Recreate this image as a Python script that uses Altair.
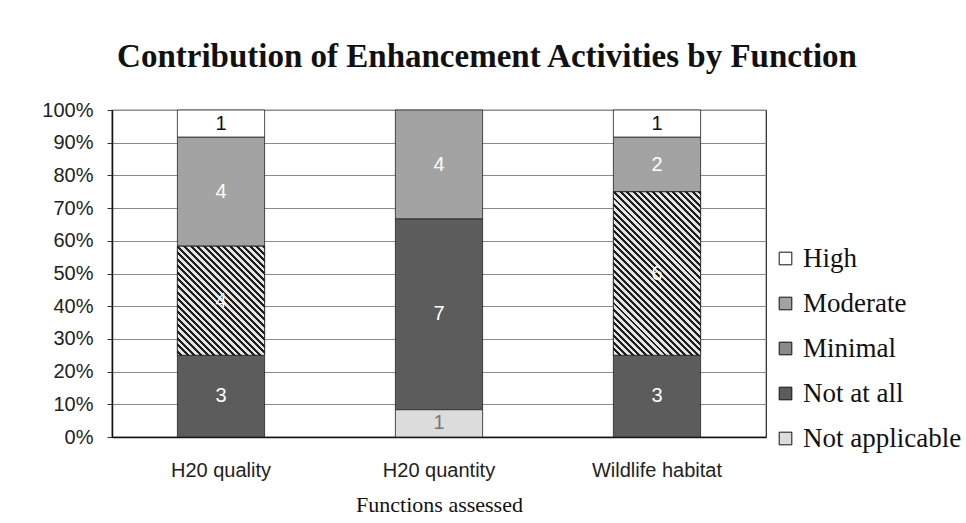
import altair as alt
import pandas as pd

functions = ["H20 quality", "H20 quantity", "Wildlife habitat"]
levels = ["High", "Moderate", "Minimal", "Not at all", "Not applicable"]
high = [1, 0, 1]
moderate = [4, 4, 2]
minimal = [4, 0, 6]
not_at_all = [3, 7, 3]
not_applicable = [0, 1, 0]
y_ticks = [0, 0.1, 0.2, 0.3, 0.4, 0.5, 0.6, 0.7, 0.8, 0.9, 1.0]

series = {
    "High": high,
    "Moderate": moderate,
    "Minimal": minimal,
    "Not at all": not_at_all,
    "Not applicable": not_applicable,
}
stack_order = {"Not applicable": 0, "Not at all": 1, "Minimal": 2, "Moderate": 3, "High": 4}
text_colors = {"High": "#111111", "Moderate": "#ffffff", "Minimal": "#ffffff",
               "Not at all": "#ffffff", "Not applicable": "#777777"}
fills = ["#ffffff", "#a3a3a3", "#8a8a8a", "#5c5c5c", "#dcdcdc"]

rows = []
for lvl in levels:
    for f, c in zip(functions, series[lvl]):
        rows.append({"Function": f, "Level": lvl, "Count": c,
                     "order": stack_order[lvl], "tcol": text_colors[lvl]})
df = pd.DataFrame(rows)


def hatch(k, n, dark="#1e1e1e", light="#e4e4e4", frac=0.45):
    stops = []
    for i in range(n):
        a = round(i / n, 5)
        m = round((i + frac) / n, 5)
        b = round((i + 1) / n, 5)
        stops += [{"offset": a, "color": dark}, {"offset": m, "color": dark},
                  {"offset": m, "color": light}, {"offset": b, "color": light}]
    return {"gradient": "linear", "x1": 1, "y1": 0, "x2": 0, "y2": k, "stops": stops}


base = (
    alt.Chart(df)
    .transform_stack(stack="Count", groupby=["Function"], as_=["y0", "y1"],
                     sort=[alt.SortField("order", order="ascending")], offset="normalize")
    .transform_filter("datum.Count > 0")
    .transform_calculate(ymid="(datum.y0 + datum.y1) / 2")
)

x_axis = alt.Axis(title="Functions assessed", labelAngle=0, ticks=False,
                  labelFont="Liberation Sans", labelFontSize=20, labelColor="#222",
                  labelPadding=23, titleFont="Liberation Serif", titleFontSize=22,
                  titleFontWeight="normal", titleColor="#111", titlePadding=14,
                  domainColor="#111", domainWidth=1.5)
y_axis = alt.Axis(title=None, format="%", values=y_ticks, labelOverlap=False,
                  tickCount=20, labelFont="Liberation Sans", labelFontSize=20,
                  labelColor="#222", labelPadding=14, tickSize=5, tickColor="#333",
                  domainColor="#111", domainWidth=1.5,
                  grid=True, gridColor="#8a8a8a", gridWidth=1)
x_scale = alt.Scale(paddingInner=0.6, paddingOuter=0.3)
y_scale = alt.Scale(domain=[0, 1], nice=False)


def xe():
    return alt.X("Function:N", sort=functions, scale=x_scale, axis=x_axis)


def ye(field):
    return alt.Y(field, type="quantitative", scale=y_scale, axis=y_axis)


bars = base.mark_bar(stroke="#222", strokeWidth=0.8).encode(
    x=xe(),
    y=ye("y0"),
    y2="y1:Q",
    color=alt.Color("Level:N", sort=levels,
                    scale=alt.Scale(domain=levels, range=fills),
                    legend=alt.Legend(title=None, orient="none", legendX=660, legendY=135,
                                      symbolType="square", symbolSize=160,
                                      symbolStrokeColor="#111", symbolStrokeWidth=1,
                                      labelFont="Liberation Serif", labelFontSize=27,
                                      labelColor="#111", labelOffset=4, rowPadding=17,
                                      padding=0, labelLimit=300)),
)

hatch1 = base.transform_filter(
    "datum.Level == 'Minimal' && datum.Function == 'H20 quality'"
).mark_bar(fill=hatch(1.25, 34), stroke="#222", strokeWidth=0.8).encode(
    x=xe(), y=ye("y0"), y2="y1:Q")

hatch2 = base.transform_filter(
    "datum.Level == 'Minimal' && datum.Function == 'Wildlife habitat'"
).mark_bar(fill=hatch(1.875, 60), stroke="#222", strokeWidth=0.8).encode(
    x=xe(), y=ye("y0"), y2="y1:Q")

labels = base.mark_text(
    font="Liberation Sans", fontSize=20, baseline="middle", align="center"
).encode(
    x=xe(),
    y=ye("ymid"),
    text="Count:Q",
    fill=alt.Fill("tcol:N", scale=None, legend=None),
)

chart = (
    alt.layer(bars, hatch1, hatch2, labels)
    .properties(
        width=654, height=327,
        autosize=alt.AutoSizeParams(type="none"),
        padding={"left": 112, "top": 110, "right": 200, "bottom": 86},
        background="white",
        title=alt.TitleParams("Contribution of Enhancement Activities by Function",
                              font="Liberation Serif", fontSize=33, fontWeight="bold",
                              color="#111", anchor="middle", dx=48, offset=26),
    )
    .configure_view(stroke="#222", strokeWidth=1.2)
)

chart.save("out.html", embed_options={"renderer": "svg", "actions": False})
